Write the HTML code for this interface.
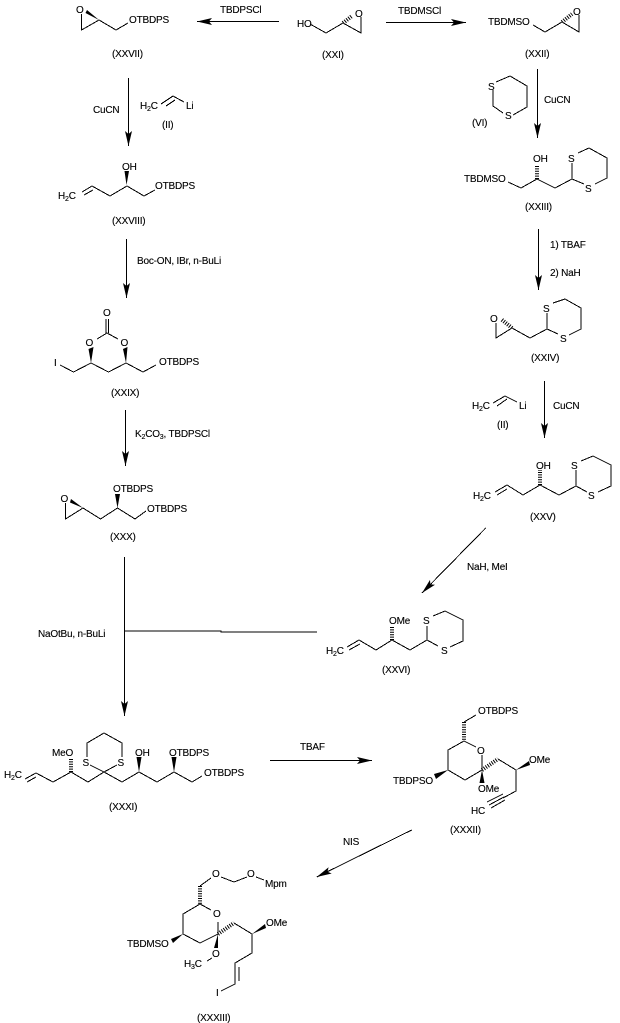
<!DOCTYPE html>
<html><head><meta charset="utf-8"><style>
html,body{margin:0;padding:0;background:#fff;width:620px;height:1023px;overflow:hidden}
svg{display:block}
text{font-family:"Liberation Sans",sans-serif;font-size:10px;fill:#000;stroke:#000;stroke-width:.12;letter-spacing:-0.2px}
.s{font-size:7px}
.l{fill:none;stroke:#000;stroke-width:1;stroke-linejoin:miter;shape-rendering:crispEdges}
.n{fill:none;stroke:#000;stroke-width:4;stroke-dasharray:1 1.4}
</style></head><body>
<svg width="620" height="1023" viewBox="0 0 620 1023" xmlns="http://www.w3.org/2000/svg">
<!-- arrows -->
<g class="l">
<path d="M279 21.5H197M386 22.5H466M128.5 78V146M126.5 239V298M125.5 410V466M124.5 557V716M124.5 631H221V632H317M537.5 69V138M538.5 229V290M544.5 381V438M485.7 528L422 593M270 760.5H372M411.7 830L316.7 877"/>
</g>
<g fill="#000">
<polygon points="197,21.5 212,18 209,21.5 212,25"/>
<polygon points="466,22.5 451,19 454,22.5 451,26"/>
<polygon points="128.5,146 125,131 128.5,134 132,131"/>
<polygon points="126.5,298 123,283 126.5,286 130,283"/>
<polygon points="125.5,466 122,451 125.5,454 129,451"/>
<polygon points="124.5,716 121,701 124.5,704 128,701"/>
<polygon points="537.5,138 534,123 537.5,126 541,123"/>
<polygon points="538.5,290 535,275 538.5,278 542,275"/>
<polygon points="544.5,438 541,423 544.5,426 548,423"/>
<polygon points="422,593 435,584.8 430.4,584.4 430,579.9"/>
<polygon points="372,760.5 357,757 360,760.5 357,764"/>
<polygon points="316.7,877 331.7,873.5 327.5,871.7 328.6,867.3"/>
</g>
<!-- reagents -->
<text x="220" y="13">TBDPSCl</text>
<text x="398" y="14">TBDMSCl</text>
<text x="93" y="113">CuCN</text>
<text x="544" y="103">CuCN</text>
<text x="137" y="264">Boc-ON, IBr, n-BuLi</text>
<text x="550" y="248">1) TBAF</text>
<text x="550" y="276">2) NaH</text>
<text x="135" y="437">K<tspan class="s" dy="2">2</tspan><tspan dy="-2">CO</tspan><tspan class="s" dy="2">3</tspan><tspan dy="-2">, TBDPSCl</tspan></text>
<text x="553" y="409">CuCN</text>
<text x="467" y="570">NaH, MeI</text>
<text x="38" y="637">NaOtBu, n-BuLi</text>
<text x="300" y="750">TBAF</text>
<text x="343" y="845">NIS</text>
<!-- XXI -->
<text x="297" y="27">HO</text>
<path class="l" d="M310 24L326 33L343 23L361 33V17"/>
<path class="n" d="M343 23L352 16"/>
<text x="355" y="17">O</text>
<text x="322" y="58">(XXI)</text>
<!-- XXVII -->
<text x="76" y="13">O</text>
<path class="l" d="M81.5 14V30L99 20L116 30L128 23"/>
<polygon points="99,20 87,10 85.5,13"/>
<text x="129" y="23">OTBDPS</text>
<text x="112" y="57">(XXVII)</text>
<!-- II -->
<text x="140" y="109">H<tspan class="s" dy="2">2</tspan><tspan dy="-2">C</tspan></text>
<path class="l" d="M161 104L173 96L184 102M166 106L175 100"/>
<text x="186" y="109">Li</text>
<text x="162" y="128">(II)</text>
<!-- XXVIII -->
<text x="122" y="170">OH</text>
<polygon points="126.5,185 124.5,171 129,171"/>
<text x="58" y="199">H<tspan class="s" dy="2">2</tspan><tspan dy="-2">C</tspan></text>
<path class="l" d="M82 192L92 186L110 196L127 186L144 196L155 190M84 195L93 190"/>
<text x="155" y="189">OTBDPS</text>
<text x="112" y="224">(XXVIII)</text>
<!-- XXIX -->
<text x="103" y="316">O</text>
<path class="l" d="M106 319V333M108.5 319V333M97 339L107 333L118 339M91 363L108.5 372L126 363L143 372L156 365M91 363L73.5 372L60 365"/>
<text x="85.5" y="346">O</text>
<text x="120.5" y="346">O</text>
<polygon points="91,363 88.5,349 93.5,347"/>
<polygon points="126,363 123,349 127.5,347"/>
<text x="54" y="366">I</text>
<text x="159" y="365">OTBDPS</text>
<text x="111" y="396">(XXIX)</text>
<!-- XXX -->
<text x="113" y="492">OTBDPS</text>
<polygon points="117.5,508 115,494 120,494"/>
<text x="60.5" y="502">O</text>
<path class="l" d="M65.5 503V519L83 508L100.5 519L117.5 508L135 519L146 511"/>
<polygon points="83,508 71,499 70,502.5"/>
<text x="147" y="512">OTBDPS</text>
<text x="110" y="540">(XXX)</text>
<!-- XXXI -->
<text x="4" y="778">H<tspan class="s" dy="2">2</tspan><tspan dy="-2">C</tspan></text>
<path class="l" d="M25 779L36 773L53 782L71 772L88 782L104 772L122 782L139 772L157 782L174 772L192 782L202 776M27 782L36 777M104 772L90 765M104 772L117 765M87 757V743L104 733L122 743V757"/>
<text x="52" y="756">MeO</text>
<path class="n" d="M71 772V759"/>
<text x="82.5" y="766">S</text>
<text x="117.5" y="766">S</text>
<text x="135" y="756">OH</text>
<polygon points="139,772 136.5,757 141.5,757"/>
<text x="169" y="756">OTBDPS</text>
<polygon points="174,772 171.5,757 176.5,757"/>
<text x="204" y="776">OTBDPS</text>
<text x="109" y="810">(XXXI)</text>
<!-- XXII -->
<text x="488" y="25">TBDMSO</text>
<path class="l" d="M533 25L545 32L562 22L579 32V15"/>
<path class="n" d="M562 22L572 14"/>
<text x="573" y="15">O</text>
<text x="525" y="57">(XXII)</text>
<!-- VI -->
<text x="488" y="90">S</text>
<text x="505" y="119">S</text>
<path class="l" d="M496 82L510 76L527 86V107L513 115M493 90V106L503 113"/>
<text x="472" y="126">(VI)</text>
<!-- XXIII -->
<text x="533" y="162">OH</text>
<text x="464" y="182">TBDMSO</text>
<path class="l" d="M508 182L521 188L537 179L555 188L572 179V163M572 179L584 184M578 153L589 148L607 158V178L595 184"/>
<path class="n" d="M537 179V165"/>
<text x="568" y="162">S</text>
<text x="585" y="192">S</text>
<text x="525" y="210">(XXIII)</text>
<!-- XXIV -->
<text x="490" y="322">O</text>
<path class="l" d="M496 323V338L512 328L530 338L547 329V313M547 329L558 334M553 303L565 299L581 308V329L569 335"/>
<path class="n" d="M512 328L501 319"/>
<text x="543" y="312">S</text>
<text x="560" y="342">S</text>
<text x="531" y="361">(XXIV)</text>
<!-- II right -->
<text x="472" y="409">H<tspan class="s" dy="2">2</tspan><tspan dy="-2">C</tspan></text>
<path class="l" d="M493 403L505 396L517 402M497 406L507 399"/>
<text x="519" y="409">Li</text>
<text x="497" y="428">(II)</text>
<!-- XXV -->
<text x="536" y="469">OH</text>
<path class="n" d="M540 485V470"/>
<text x="473" y="499">H<tspan class="s" dy="2">2</tspan><tspan dy="-2">C</tspan></text>
<path class="l" d="M495 492L507 485L523 495L540 485L559 495L576 486V470M576 486L587 492M497 495L507 489M581 461L593 456L611 465V486L598 492"/>
<text x="571" y="469">S</text>
<text x="588" y="499">S</text>
<text x="530" y="520">(XXV)</text>
<!-- XXVI -->
<text x="389" y="624">OMe</text>
<path class="n" d="M392 640V626"/>
<text x="423" y="624">S</text>
<text x="441" y="654">S</text>
<text x="326" y="654">H<tspan class="s" dy="2">2</tspan><tspan dy="-2">C</tspan></text>
<path class="l" d="M347 647L359 640L376 650L392 640L410 650L427 640V626M427 640L438 646M349 650L360 644M433 616L445 611L463 620V641L450 647"/>
<text x="382" y="673">(XXVI)</text>
<!-- XXXII -->
<text x="478" y="714">OTBDPS</text>
<path class="l" d="M476 715L464 722M464 741L448 750V770L465 780L482 770V755M464 741L476 747M498 759L516 770V791L503 798M487 802L503 794M489 805L504 797M491 808L505 800"/>
<path class="n" d="M464 722V741"/>
<text x="477" y="754">O</text>
<path class="n" d="M482 770L498 759"/>
<polygon points="516,770 529,761 530,765"/>
<text x="529" y="763">OMe</text>
<text x="393" y="784">TBDPSO</text>
<polygon points="448,770 434,774 436,779"/>
<polygon points="482,770 479.5,783 484.5,783"/>
<text x="478" y="792">OMe</text>
<text x="471" y="814">HC</text>
<text x="450" y="833">(XXXII)</text>
<!-- XXXIII -->
<text x="212" y="877">O</text>
<text x="247" y="877">O</text>
<text x="265" y="887">Mpm</text>
<path class="l" d="M200 886L211 878M221 877L234 882L247 877M256 877L264 880M200 904L183 914V934L200 943L218 934V922M200 904L211 910M234 923L252 934V953L235 963V984L221 991M239 967V981M207 961L212 958"/>
<path class="n" d="M200 886V904"/>
<text x="213" y="917">O</text>
<path class="n" d="M218 934L234 923"/>
<polygon points="252,934 265,924 266,928"/>
<text x="266" y="926">OMe</text>
<text x="127" y="947">TBDMSO</text>
<polygon points="183,934 171,939 173,943"/>
<polygon points="218,934 214,948 218,948"/>
<text x="212" y="957">O</text>
<text x="184" y="967">H<tspan class="s" dy="2">3</tspan><tspan dy="-2">C</tspan></text>
<text x="216" y="996">I</text>
<text x="197" y="1021">(XXXIII)</text>
</svg>
</body></html>
